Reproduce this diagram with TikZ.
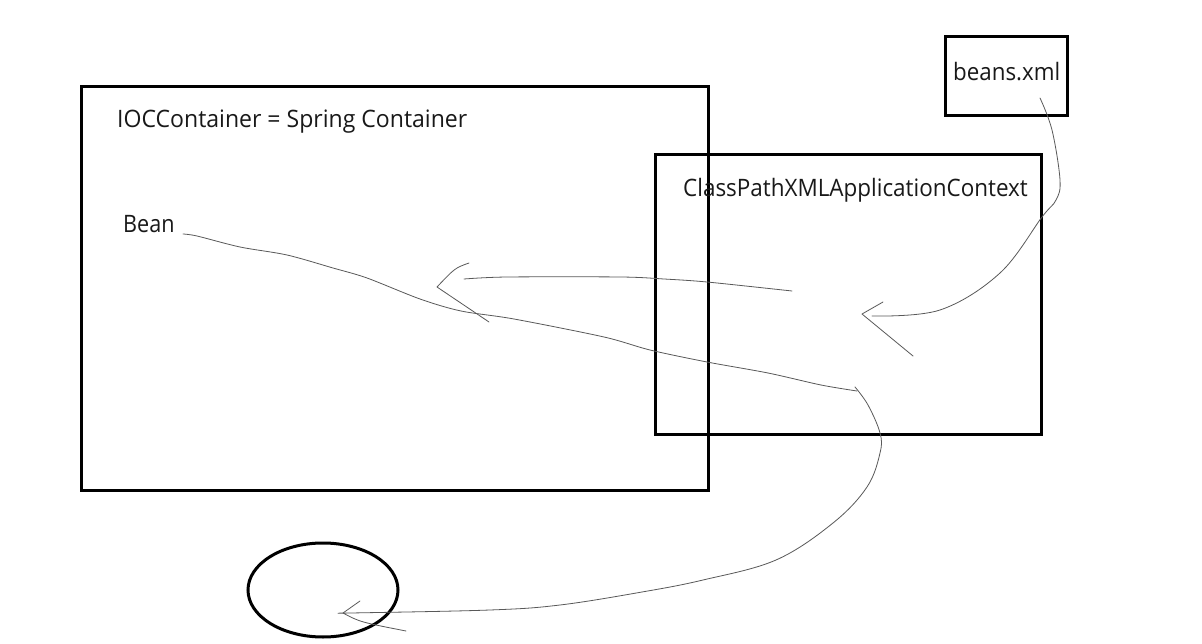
\documentclass[tikz,border=0pt]{standalone}
\usepackage{fontspec}
\setmainfont{Open Sans}
\newcommand{\hsq}[2]{\scalebox{#1}[1]{#2}}
\begin{document}
\begin{tikzpicture}[x=1pt,y=-1pt,
  boxline/.style={draw=black,line width=3pt},
  lbl/.style={anchor=base west,inner sep=0pt,font=\fontsize{24}{28}\selectfont,text=black!90},
  pen/.style={draw=black!65,line width=0.8pt,line cap=round,line join=round}]
\useasboundingbox (0,0) rectangle (1202,644);
\fill[white] (0,0) rectangle (1202,644);
% boxes
\draw[boxline] (81,87) rectangle (708,490);
\draw[boxline] (655,155) rectangle (1041,434);
\draw[boxline] (945,37) rectangle (1067,116);
\draw[boxline] (323,590) ellipse[x radius=75,y radius=47];
% labels
\node[lbl] (ioc) at (117,128) {\hsq{0.96}{IOCContainer = Spring Container}};
\node[lbl] (bean) at (123,233) {\hsq{0.9}{Bean}};
\node[lbl] (cpx) at (683,197) {\hsq{0.935}{ClassPathXMLApplicationContext}};
\node[lbl] (bx) at (953,81) {\hsq{0.93}{beans.xml}};
% bean curve
\draw[pen] plot[smooth,tension=0.5] coordinates {(183,234) (197,236) (240,247) (287,255) (333,268) (367,278) (420,299) (461,311) (514,319) (604,337) (650,350) (707,362) (768,373) (821,385) (857,391)};
% bean to ellipse
\draw[pen] plot[smooth,tension=0.6] coordinates {(855,387) (868,405) (880,433) (880,453) (867,487) (833,523) (776,560) (703,580) (642,592) (560,605) (490,610) (351,613) (344,613)};
\draw[pen] (360,601) -- (343,613) .. controls (360,622) .. (406,631);
% context to container
\draw[pen] plot[smooth,tension=0.5] coordinates {(792,291) (707,282) (664,279) (621,277) (507,277) (464,279)};
\draw[pen] (469,263) .. controls (455,268) .. (437,287) -- (489,322);
% beans.xml to context
\draw[pen] plot[smooth,tension=0.6] coordinates {(1040,98) (1052,130) (1060,180) (1056,200) (1042,217) (1000,273) (940,310) (872,316)};
\draw[pen] (883,302) -- (862,314) -- (913,356);
\end{tikzpicture}
\end{document}
